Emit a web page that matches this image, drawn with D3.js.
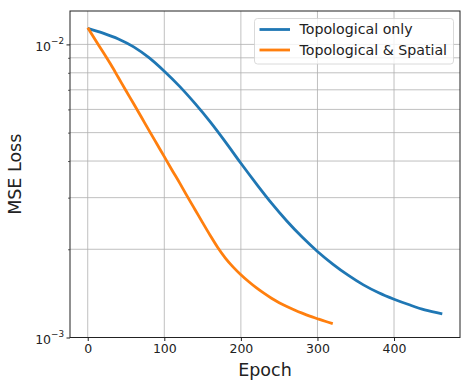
<!DOCTYPE html>
<html>
<head>
<meta charset="utf-8">
<script src="https://cdn.jsdelivr.net/npm/d3@7"></script>
<style>
  body { margin: 0; background: #fff; }
  text { font-family: "DejaVu Sans", sans-serif; }
</style>
</head>
<body>
<div id="chart"></div>
<script>
// values
const epochsTopo = [0, 20, 40, 60, 80, 100, 120, 140, 160, 180, 200, 220, 240, 260, 280, 300, 320, 340, 360, 380, 400, 420, 440, 463];
const lossTopo = [1.134e-2, 1.093e-2, 1.044e-2, 9.81e-3, 9.01e-3, 8.10e-3, 7.19e-3, 6.29e-3, 5.44e-3, 4.64e-3, 3.93e-3, 3.35e-3, 2.874e-3, 2.498e-3, 2.201e-3, 1.966e-3, 1.781e-3, 1.632e-3, 1.512e-3, 1.421e-3, 1.351e-3, 1.293e-3, 1.243e-3, 1.205e-3];

const epochsSpatial = [0, 10, 20, 30, 40, 50, 60, 70, 80, 90, 100, 110, 120, 130, 140, 150, 160, 170, 180, 190, 200, 210, 220, 230, 240, 250, 260, 270, 280, 290, 300, 310, 320];
const lossSpatial = [1.14e-2, 1.035e-2, 9.42e-3, 8.55e-3, 7.71e-3, 6.95e-3, 6.27e-3, 5.65e-3, 5.09e-3, 4.59e-3, 4.14e-3, 3.73e-3, 3.37e-3, 3.03e-3, 2.735e-3, 2.466e-3, 2.228e-3, 2.023e-3, 1.862e-3, 1.738e-3, 1.637e-3, 1.552e-3, 1.479e-3, 1.416e-3, 1.361e-3, 1.315e-3, 1.276e-3, 1.242e-3, 1.211e-3, 1.183e-3, 1.159e-3, 1.136e-3, 1.115e-3];

const seriesNames = ["Topological only", "Topological & Spatial"];
const colors = ["#1f77b4", "#ff7f0e"];
const xTicks = [0, 100, 200, 300, 400];
const yMajor = [1e-3, 1e-2];
const yMinor = [2e-3, 3e-3, 4e-3, 5e-3, 6e-3, 7e-3, 8e-3, 9e-3];
const yLabels = ["\u22123", "\u22122"];

const width = 471;
const height = 387;
const margin = { top: 11, right: 11, bottom: 49.5, left: 70 };

const svg = d3.select("#chart")
  .append("svg")
  .attr("width", width)
  .attr("height", height);

const x = d3.scaleLinear()
  .domain([-23.15, 486.15])
  .range([margin.left, width - margin.right]);

const y = d3.scaleLog()
  .domain([1e-3, 1.3e-2])
  .range([height - margin.bottom, margin.top]);

// grid
const grid = svg.append("g").attr("stroke", "#b0b0b0").attr("stroke-width", 0.8);
grid.selectAll("line.gx")
  .data(xTicks)
  .join("line")
    .attr("class", "gx")
    .attr("x1", d => x(d)).attr("x2", d => x(d))
    .attr("y1", margin.top).attr("y2", height - margin.bottom);
grid.selectAll("line.gy")
  .data(yMajor.concat(yMinor))
  .join("line")
    .attr("class", "gy")
    .attr("x1", margin.left).attr("x2", width - margin.right)
    .attr("y1", d => y(d)).attr("y2", d => y(d));

// lines
const series = [
  epochsTopo.map((e, i) => [e, lossTopo[i]]),
  epochsSpatial.map((e, i) => [e, lossSpatial[i]])
];
const line = d3.line()
  .x(d => x(d[0]))
  .y(d => y(d[1]))
  .curve(d3.curveMonotoneX);

svg.append("g")
  .selectAll("path")
  .data(series)
  .join("path")
    .attr("fill", "none")
    .attr("stroke", (d, i) => colors[i])
    .attr("stroke-width", 2.8)
    .attr("stroke-linejoin", "round")
    .attr("d", line);

// axes
function xAxis(g) {
  g.attr("transform", `translate(0,${height - margin.bottom})`)
    .call(d3.axisBottom(x).tickValues(xTicks).tickSize(3.5).tickPadding(3.5))
    .attr("font-size", "12.5px")
    .attr("font-family", "DejaVu Sans, sans-serif");
  g.select(".domain").remove();
  g.selectAll(".tick line").attr("stroke", "#222");
  g.selectAll(".tick text").attr("fill", "#222");
}

function yAxis(g) {
  g.attr("transform", `translate(${margin.left},0)`)
    .call(d3.axisLeft(y).tickValues(yMajor).tickSize(3.5).tickFormat(""))
  g.select(".domain").remove();
  g.selectAll(".tick line").attr("stroke", "#222");
  const t = g.selectAll(".tick text")
    .attr("fill", "#222")
    .attr("font-size", "12.5px")
    .attr("font-family", "DejaVu Sans, sans-serif")
    .attr("x", -6)
    .attr("dy", "0.5em");
  t.append("tspan").text("10");
  t.append("tspan")
    .attr("font-size", "8.8px")
    .attr("dy", "-0.85em")
    .text((d, i) => yLabels[i]);
}

function yMinorAxis(g) {
  g.attr("transform", `translate(${margin.left},0)`)
    .call(d3.axisLeft(y).tickValues(yMinor).tickSize(2).tickFormat(""));
  g.select(".domain").remove();
  g.selectAll(".tick line").attr("stroke", "#222").attr("stroke-width", 0.7);
}

svg.append("g").call(xAxis);
svg.append("g").call(yAxis);
svg.append("g").call(yMinorAxis);

// frame
svg.append("rect")
  .attr("x", margin.left)
  .attr("y", margin.top)
  .attr("width", width - margin.left - margin.right)
  .attr("height", height - margin.top - margin.bottom)
  .attr("fill", "none")
  .attr("stroke", "#222")
  .attr("stroke-width", 1);

// axis titles
svg.append("text")
  .attr("x", (margin.left + width - margin.right) / 2)
  .attr("y", 376)
  .attr("text-anchor", "middle")
  .attr("font-size", "17.5px")
  .attr("fill", "#222")
  .text("Epoch");

svg.append("text")
  .attr("transform", `translate(21,${(margin.top + height - margin.bottom) / 2}) rotate(-90)`)
  .attr("text-anchor", "middle")
  .attr("font-size", "17.5px")
  .attr("fill", "#222")
  .text("MSE Loss");

// legend
const legend = svg.append("g");
legend.append("rect")
  .attr("x", 254.5)
  .attr("y", 18.5)
  .attr("width", 199)
  .attr("height", 45.5)
  .attr("rx", 3)
  .attr("fill", "#fff")
  .attr("fill-opacity", 0.8)
  .attr("stroke", "#d0d0d0")
  .attr("stroke-width", 0.8);

const items = legend.selectAll("g.item")
  .data(seriesNames)
  .join("g")
    .attr("class", "item")
    .attr("transform", (d, i) => `translate(0,${29.5 + i * 20.5})`);
items.append("line")
  .attr("x1", 259.5).attr("x2", 290)
  .attr("stroke", (d, i) => colors[i])
  .attr("stroke-width", 2.8);
items.append("text")
  .attr("x", 299.5)
  .attr("dy", "0.35em")
  .attr("font-size", "14.2px")
  .attr("fill", "#222")
  .text(d => d);
</script>
</body>
</html>
